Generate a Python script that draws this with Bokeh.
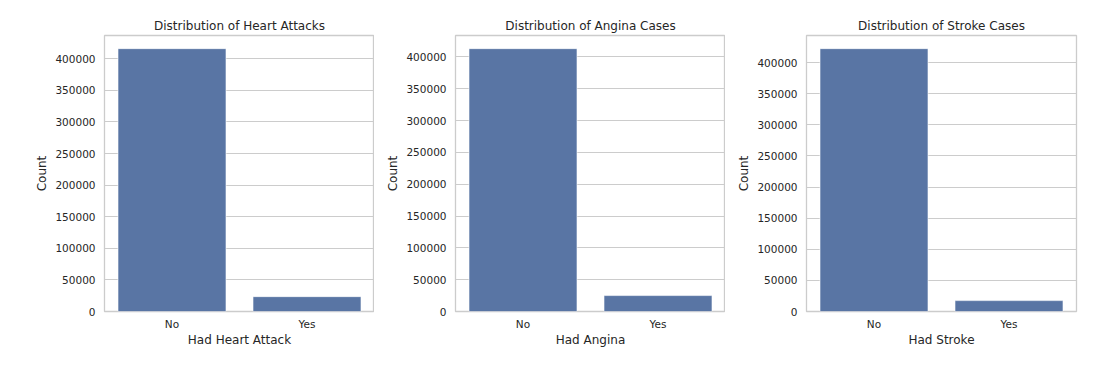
from bokeh.plotting import figure
from bokeh.layouts import row
from bokeh.models import Range1d, SingleIntervalTicker, NumeralTickFormatter, FactorRange
from bokeh.embed import file_html
from bokeh.resources import INLINE

categories = ["No", "Yes"]
heart_attack_counts = [416000, 23500]
angina_counts = [413000, 25000]
stroke_counts = [422500, 17500]

titles = ["Distribution of Heart Attacks", "Distribution of Angina Cases", "Distribution of Stroke Cases"]
xlabels = ["Had Heart Attack", "Had Angina", "Had Stroke"]
series = [heart_attack_counts, angina_counts, stroke_counts]

FONT = "DejaVu Sans"
TXT = "#262626"
GRID = "#cccccc"
BAR = "#5975a4"

lefts = [104, 81, 81]
rights = [0, 0, 10]
figs = []
for i, (vals, t, xl) in enumerate(zip(series, titles, xlabels)):
    left, right = lefts[i], rights[i]
    p = figure(x_range=FactorRange(*categories, range_padding=0),
               y_range=Range1d(0, max(vals) * 1.05),
               width=left + 270 + right, height=35 + 276 + 45,
               min_border_left=left, min_border_right=right,
               min_border_top=35, min_border_bottom=45,
               output_backend="svg", toolbar_location=None,
               title=t)
    p.vbar(x=categories, top=vals, width=0.8, fill_color=BAR, line_color="#ffffff", line_width=0.6)
    p.title.align = "center"
    p.title.text_font = FONT
    p.title.text_font_style = "normal"
    p.title.text_font_size = "12px"
    p.title.text_color = TXT
    p.title.standoff = 6
    p.outline_line_color = GRID
    p.outline_line_width = 1.3
    p.xgrid.grid_line_color = None
    p.ygrid.grid_line_color = GRID
    p.ygrid.grid_line_width = 1
    p.yaxis.ticker = SingleIntervalTicker(interval=50000, num_minor_ticks=0)
    p.yaxis.formatter = NumeralTickFormatter(format="0")
    for ax in (p.xaxis, p.yaxis):
        ax.axis_line_color = None
        ax.major_tick_line_color = None
        ax.minor_tick_line_color = None
        ax.major_tick_out = 0
        ax.major_tick_in = 0
        ax.minor_tick_out = 0
        ax.minor_tick_in = 0
        ax.major_label_text_font = FONT
        ax.major_label_text_font_size = "10.5px"
        ax.major_label_text_color = TXT
        ax.axis_label_text_font = FONT
        ax.axis_label_text_font_size = "12px"
        ax.axis_label_text_font_style = "normal"
        ax.axis_label_text_color = TXT
    p.xaxis.axis_label = xl
    p.yaxis.axis_label = "Count"
    p.xaxis.major_label_standoff = 6
    p.xaxis.axis_label_standoff = 0
    p.yaxis.major_label_standoff = 9
    p.yaxis.axis_label_standoff = 3
    p.background_fill_color = "white"
    p.border_fill_color = "white"
    figs.append(p)

layout = row(*figs, spacing=0)
open("out.html", "w").write(file_html(layout, INLINE))
